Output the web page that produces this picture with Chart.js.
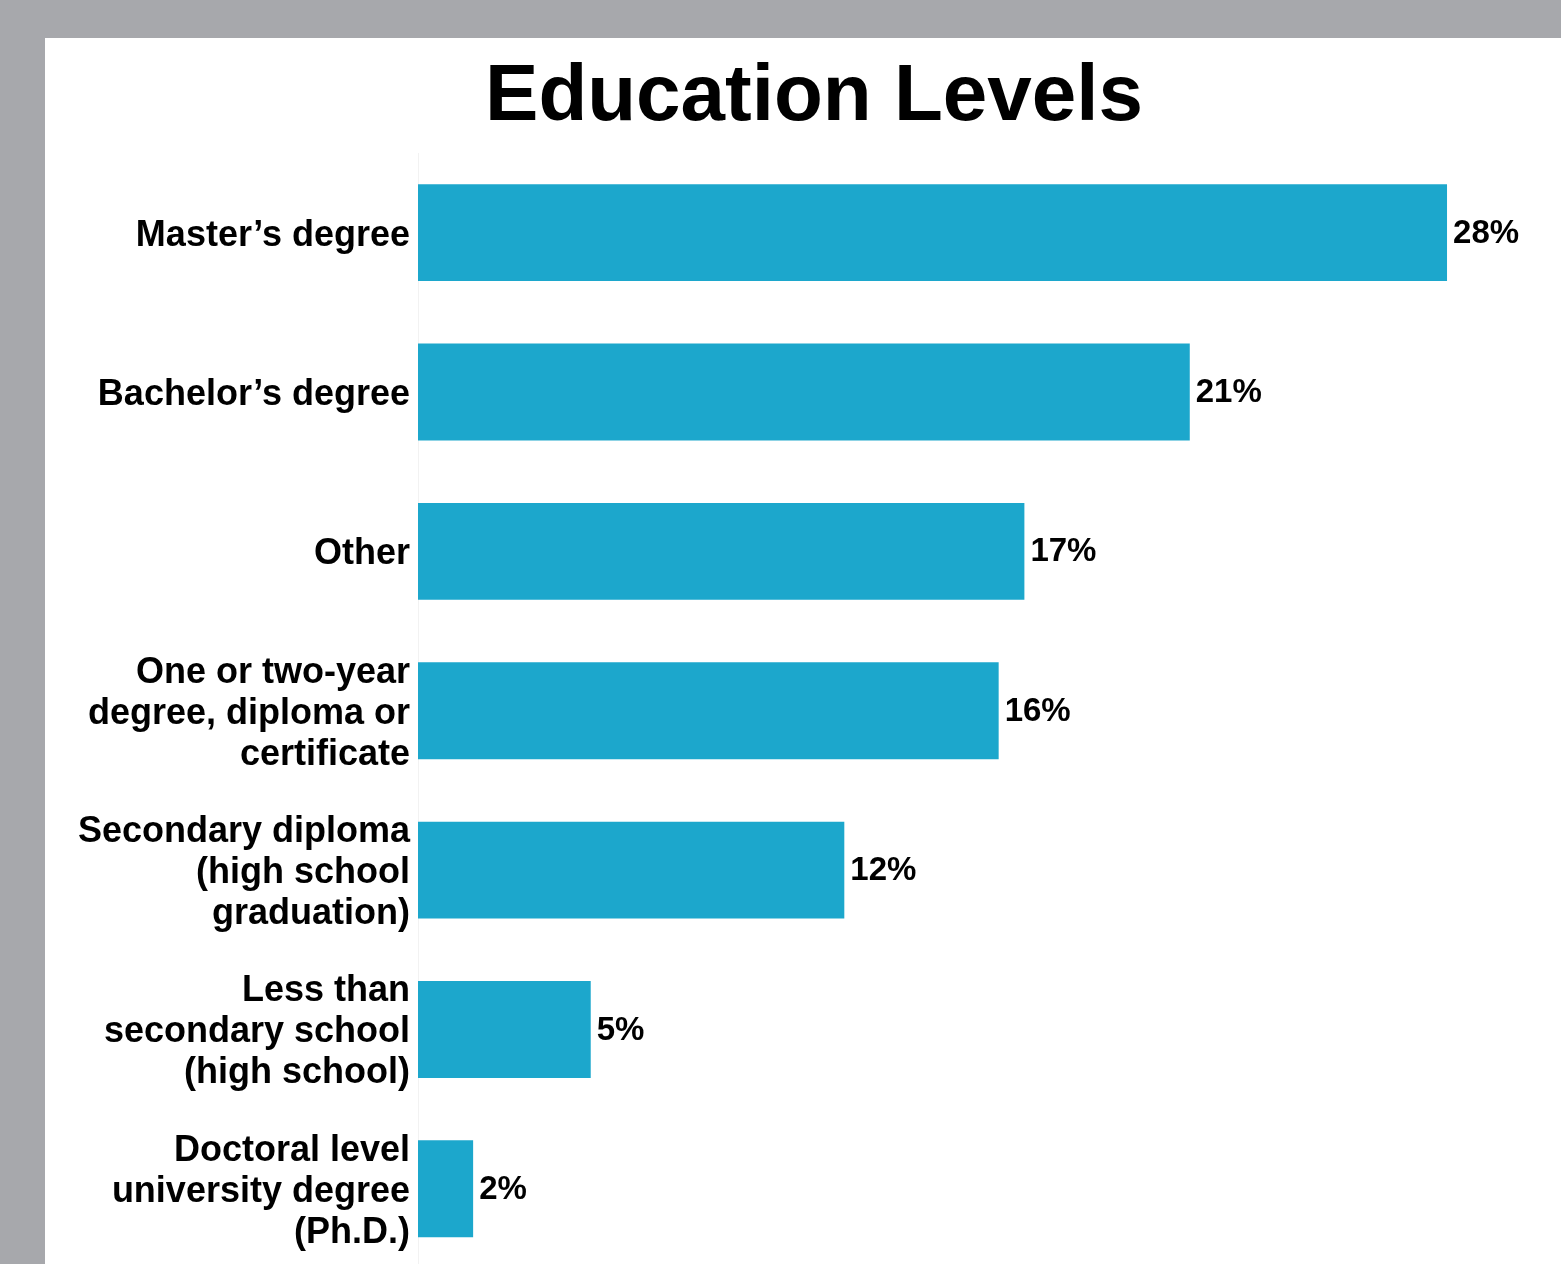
<!DOCTYPE html>
<html>
<head>
<meta charset="utf-8">
<script src="https://cdn.jsdelivr.net/npm/chart.js@4.4.1/dist/chart.umd.min.js"></script>
<style>
  html, body { margin: 0; padding: 0; overflow: hidden; background: #a7a8ac; }
  body { width: 1561px; height: 1264px; position: relative; }
  #panel { position: absolute; left: 45px; top: 38px; width: 1516px; height: 1259px; background: #fff; overflow: hidden; }
  #chart { display: block; }
</style>
</head>
<body>
<div id="panel"><canvas id="chart" width="1538" height="1259"></canvas></div>
<script>
// categories, top to bottom
var categories = [
    ["Master\u2019s degree"],
    ["Bachelor\u2019s degree"],
    ["Other"],
    ["One or two-year", "degree, diploma or", "certificate"],
    ["Secondary diploma", "(high school", "graduation)"],
    ["Less than", "secondary school", "(high school)"],
    ["Doctoral level", "university degree", "(Ph.D.)"]
];
// share of respondents (%)
var shares = [28.0, 21.0, 16.5, 15.8, 11.6, 4.7, 1.5];

var barColor = "#1ca7cc";
var fontFamily = "'Liberation Sans', Arial, Helvetica, sans-serif";

// draws the "28%" style labels at the end of each bar
var valueLabels = {
    id: "valueLabels",
    afterDatasetsDraw: function (chart) {
        var ctx = chart.ctx;
        var meta = chart.getDatasetMeta(0);
        ctx.save();
        ctx.font = "bold 33px " + fontFamily;
        ctx.fillStyle = "#000";
        ctx.textAlign = "left";
        ctx.textBaseline = "middle";
        meta.data.forEach(function (bar, i) {
            ctx.fillText(Math.round(shares[i]) + "%", bar.x + 6, bar.y + 1);
        });
        ctx.restore();
    }
};

var ctx = document.getElementById("chart");
var chart = new Chart(ctx, {
    type: "bar",
    data: {
        labels: categories,
        datasets: [{
            data: shares,
            backgroundColor: barColor,
            borderWidth: 0,
            barPercentage: 0.608,
            categoryPercentage: 1
        }]
    },
    options: {
        indexAxis: "y",
        responsive: false,
        animation: false,
        layout: { padding: 0 },
        plugins: {
            legend: { display: false },
            tooltip: { enabled: false },
            title: {
                display: true,
                text: "Education Levels",
                color: "#000",
                font: { family: fontFamily, size: 80, weight: "bold", lineHeight: 1.2 },
                padding: { top: 12, bottom: 7 }
            }
        },
        scales: {
            x: {
                display: false,
                min: 0,
                max: 31.7
            },
            y: {
                grid: { display: false, drawTicks: false },
                border: { display: true, color: "#f2f2f2", width: 1 },
                ticks: {
                    color: "#000",
                    padding: 8,
                    labelOffset: 3,
                    font: { family: fontFamily, size: 36, weight: "bold", lineHeight: 1.14 }
                },
                afterFit: function (scale) {
                    scale.width = 373;
                }
            }
        }
    },
    plugins: [valueLabels]
});
</script>
</body>
</html>
